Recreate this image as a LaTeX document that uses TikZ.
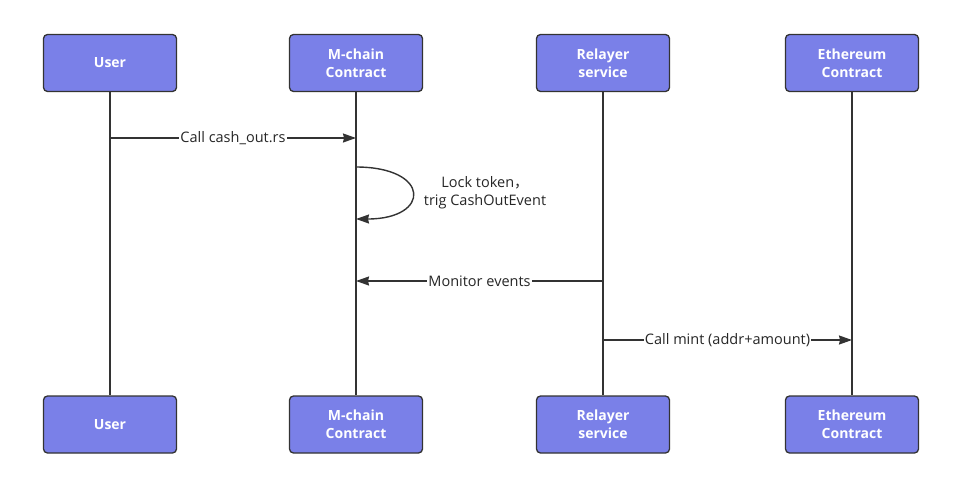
\documentclass[tikz,border=0pt]{standalone}
\usepackage{fontspec}
\setmainfont{Open Sans}
\newfontfamily\cjk{Noto Sans CJK SC}
\usetikzlibrary{positioning,arrows.meta}
\definecolor{actorblue}{HTML}{7A80E8}
\definecolor{linegray}{HTML}{333333}
\tikzset{
    actor/.style={draw=linegray, line width=1.3pt, fill=actorblue, rounded corners=4pt,
        minimum width=133pt, minimum height=57pt, align=center, text=white,
        font=\fontsize{14}{18}\selectfont\bfseries},
    life/.style={draw=linegray, line width=1.4pt},
    msg/.style={draw=linegray, line width=1.4pt, -{Stealth[length=13pt,width=9pt,inset=1pt]}},
    msgtext/.style={fill=white, inner sep=1pt, text=black!85,
        font=\fontsize{14.5}{18}\selectfont},
}
\begin{document}
\begin{tikzpicture}[x=1pt,y=-1pt]
      \useasboundingbox (0,0) rectangle (960,493);
      % actors, top and bottom, with their lifelines
      \foreach \x/\nm/\txt in {110/usr/User, 356/mch/{M-chain\\Contract},
                               603/rel/{Relayer\\service}, 852/eth/{Ethereum\\Contract}}
      {
      \node[actor] (\nm top) at (\x,63) {\txt};
      \node[actor] (\nm bot) at (\x,424.5) {\txt};
      \draw[life] (\nm top) -- (\nm bot);
      }

      % points on the lifelines
      \coordinate (callA) at (110,138);
      \coordinate (callB) at (356,138);
      \coordinate (lockA) at (356,167);
      \coordinate (lockB) at (356,219);
      \coordinate (monA) at (603,281);
      \coordinate (monB) at (356,281);
      \coordinate (mintA) at (603,340);
      \coordinate (mintB) at (852,340);

      \draw[msg] (callA) -- node[msgtext]{Call cash\_out.rs} (callB);
      \draw[msg] (lockA) .. controls +(75,0) and +(75,0) .. (lockB);
      \node[msgtext, align=center] (lock) at (485,193) {Lock token{\cjk ，}\\trig CashOutEvent};
      \draw[msg] (monA) -- node[msgtext]{Monitor events} (monB);
      \draw[msg] (mintA) -- node[msgtext]{Call mint (addr+amount)} (mintB);
\end{tikzpicture}
\end{document}
